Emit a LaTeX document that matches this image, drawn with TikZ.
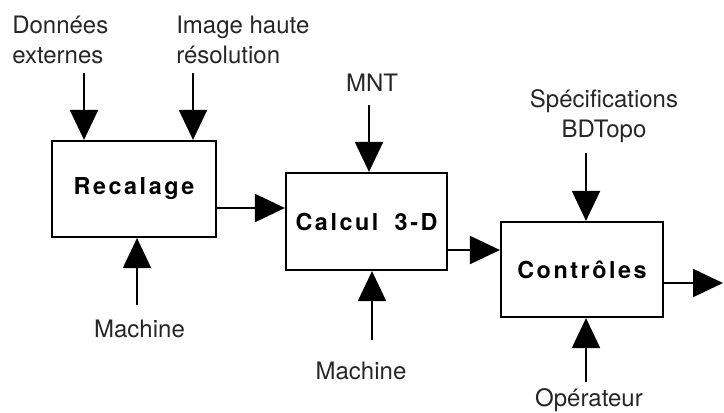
\documentclass[tikz,border=0pt]{standalone}
\usepackage{fontspec}
\setmainfont{TeX Gyre Heros}
\usetikzlibrary{arrows.meta}
\tikzset{
  lbl/.style={font=\fontsize{18}{22.5}\selectfont, inner sep=0pt, text=black!85},
  procbox/.style={draw, line width=1.6pt, inner sep=0pt,
    font=\fontsize{17.5}{20}\selectfont\bfseries\addfontfeature{LetterSpace=11}},
  arr/.style={line width=1.5pt, -{Triangle[length=22.5pt, width=21pt]}},
}
\begin{document}
\begin{tikzpicture}[x=0.75pt, y=-0.75pt]
\useasboundingbox (0,0) rectangle (724,412);
% boxes
\node[procbox, minimum width=164*0.75pt, minimum height=96*0.75pt] (rec) at (134,189) {Recalage};
\node[procbox, minimum width=161*0.75pt, minimum height=97*0.75pt] (calc) at (366.5,221.5) {Calcul\hspace{0.7em}3-D};
\node[procbox, minimum width=162*0.75pt, minimum height=95*0.75pt] (ctrl) at (582,269.5) {Contrôles};
% labels
\node[lbl, align=left, anchor=base west] (don) at (12,63) {Données\\externes};
\node[lbl, align=left, anchor=base west] (img) at (176,63) {Image haute\\résolution};
\node[lbl, anchor=base] (mnt) at (372,91) {MNT};
\node[lbl, align=center, anchor=base] (spec) at (604,137) {Spécifications\\BDTopo};
\node[lbl, anchor=base] (mach1) at (139.5,337) {Machine};
\node[lbl, anchor=base] (mach2) at (361,379) {Machine};
\node[lbl, anchor=base] (oper) at (589,406) {Opérateur};
% arrow start points
\coordinate (s1) at (84,73);
\coordinate (s2) at (193,73);
\coordinate (s3) at (137,305);
\coordinate (s4) at (369,105);
\coordinate (s5) at (372,340);
\coordinate (s6) at (586,153);
\coordinate (s7) at (586,382);
\coordinate (y1) at (0,208);
\coordinate (y2) at (0,250);
\coordinate (out) at (723,283);
% arrows
\draw[arr] (s1) -- (s1 |- rec.north);
\draw[arr] (s2) -- (s2 |- rec.north);
\draw[arr] (s3) -- (s3 |- rec.south);
\draw[arr] (s4) -- (s4 |- calc.north);
\draw[arr] (s5) -- (s5 |- calc.south);
\draw[arr] (s6) -- (s6 |- ctrl.north);
\draw[arr] (s7) -- (s7 |- ctrl.south);
\draw[arr] (y1 -| rec.east) -- (y1 -| calc.west);
\draw[arr] (y2 -| calc.east) -- (y2 -| ctrl.west);
\draw[arr] (out -| ctrl.east) -- (out);
\end{tikzpicture}
\end{document}
